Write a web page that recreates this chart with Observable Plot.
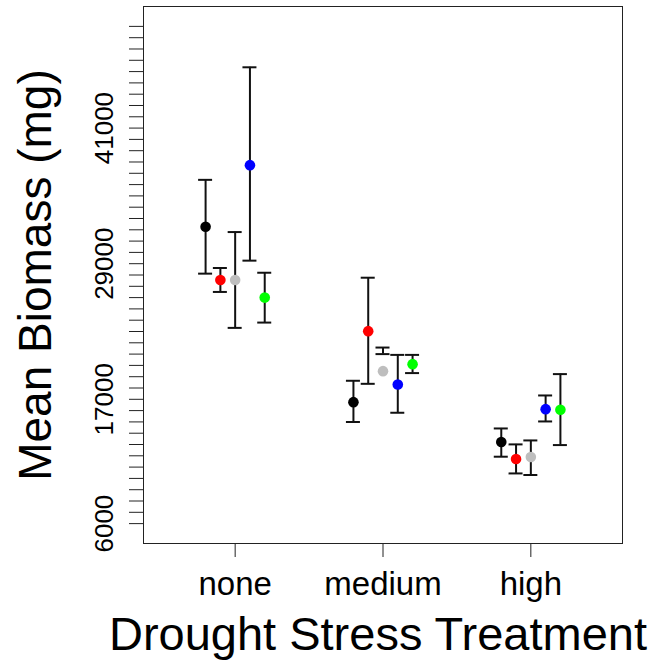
<!DOCTYPE html>
<html><head><meta charset="utf-8">
<script src="https://cdn.jsdelivr.net/npm/d3@7"></script>
<script src="https://cdn.jsdelivr.net/npm/@observablehq/plot@0.6"></script>
<style>html,body{margin:0;padding:0;background:#fff}</style>
</head><body><div id="chart"></div>
<script>
const treatments = ["none", "medium", "high"];
const seriesNames = ["black", "red", "grey", "blue", "green"];
const seriesColors = ["#000000", "#ff0000", "#bebebe", "#0000ff", "#00ff00"];

// mean biomass per series, in treatment order
const meanBlack = [32270, 16750, 13220];
const meanRed   = [27560, 23030, 11720];
const meanGrey  = [27560, 19490, 11890];
const meanBlue  = [37720, 18310, 16130];
const meanGreen = [26000, 20110, 16070];

const upperBlack = [36420, 18640, 14420];
const upperRed   = [28620, 27760, 13010];
const upperGrey  = [31800, 21580, 13360];
const upperBlue  = [46380, 20930, 17340];
const upperGreen = [28200, 20930, 19230];

const lowerBlack = [28120, 14990, 11920];
const lowerRed   = [26500, 18370, 10440];
const lowerGrey  = [23320, 21000, 10300];
const lowerBlue  = [29270, 15810, 15040];
const lowerGreen = [23790, 19320, 12950];

const yTicks = d3.range(6000, 50001, 1000);
const yTickLabels = [6000, 17000, 29000, 41000];
const xTitle = "Drought Stress Treatment";
const yTitle = "Mean Biomass (mg)";

const means = [meanBlack, meanRed, meanGrey, meanBlue, meanGreen];
const uppers = [upperBlack, upperRed, upperGrey, upperBlue, upperGreen];
const lowers = [lowerBlack, lowerRed, lowerGrey, lowerBlue, lowerGreen];

const rows = [];
seriesNames.forEach((s, i) => treatments.forEach((t, j) => rows.push({
  series: s, treatment: t, x: j + 1 + (i - 2) * 0.1,
  mean: means[i][j], lower: lowers[i][j], upper: uppers[i][j]
})));

const chart = Plot.plot({
  width: 659, height: 661,
  marginLeft: 143, marginRight: 37, marginTop: 6, marginBottom: 118,
  style: {fontFamily: "'Liberation Sans', Arial, sans-serif", background: "white", color: "black"},
  x: {type: "linear", domain: [0.38, 3.62]},
  y: {domain: [4240, 51760]},
  color: {type: "ordinal", domain: seriesNames, range: seriesColors},
  marks: [
    Plot.axisY({ticks: yTicks, tickSize: 14, tickFormat: () => "", stroke: "#222", label: null}),
    Plot.text(yTickLabels, {y: d => d, text: d => String(d), frameAnchor: "left", rotate: -90,
      lineAnchor: "bottom", textAnchor: "middle", dx: -31, fontSize: 26, fill: "black"}),
    Plot.axisX({ticks: [1, 2, 3], tickFormat: d => treatments[d - 1], tickSize: 14, tickPadding: 14,
      fontSize: 33, stroke: "#222", label: null}),
    Plot.frame({stroke: "#222"}),
    Plot.ruleX(rows, {x: "x", y1: "lower", y2: "upper", stroke: "#111", strokeWidth: 2}),
    Plot.ruleY(rows, {x1: "x", x2: "x", y: "upper", insetLeft: -7, insetRight: -7, stroke: "#111", strokeWidth: 2}),
    Plot.ruleY(rows, {x1: "x", x2: "x", y: "lower", insetLeft: -7, insetRight: -7, stroke: "#111", strokeWidth: 2}),
    Plot.dot(rows, {x: "x", y: "mean", fill: {value: "series", scale: "color"}, r: 5.3}),
    Plot.text([yTitle], {frameAnchor: "left", rotate: -90, lineAnchor: "bottom", textAnchor: "middle",
      dx: -93, fontSize: 46, fill: "black"}),
    Plot.text([xTitle], {frameAnchor: "bottom", lineAnchor: "bottom", textAnchor: "middle",
      dy: 106, dx: -5, fontSize: 47, fill: "black"})
  ]
});
document.getElementById("chart").appendChild(chart);
</script>
</body></html>
